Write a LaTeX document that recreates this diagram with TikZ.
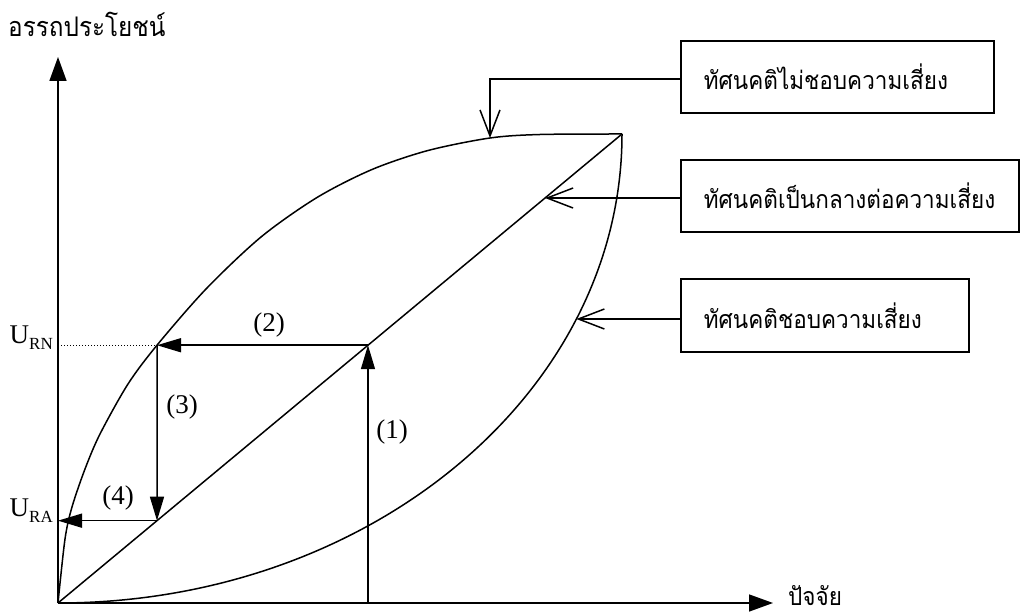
\documentclass[tikz,border=0pt]{standalone}
\usepackage{fontspec}
\setmainfont{Liberation Serif}
\newfontfamily\thaifont[Script=Thai,FakeStretch=0.9]{Loma}
\usetikzlibrary{arrows.meta,calc}
\begin{document}
\begin{tikzpicture}[x=1pt,y=1pt,
  ln/.style={line width=1.5pt},
  solidarr/.style={ln,-{Triangle[length=24pt,width=14pt]}},
  axarr/.style={ln,-{Triangle[length=24pt,width=17pt]}},
  openarr/.style={ln,-{Straight Barb[length=26pt,width=20pt]}},
  box/.style={draw,line width=1.7pt,inner xsep=23pt,inner ysep=0pt,align=left,minimum height=72pt,anchor=north west,font=\thaifont\fontsize{25}{30}\selectfont},
  lbl/.style={font=\fontsize{27}{32}\selectfont,inner sep=0pt},
  thai/.style={font=\thaifont\fontsize{25}{30}\selectfont,inner sep=0pt}]
\useasboundingbox (0,0) rectangle (1020,614);
\fill[white] (0,0) rectangle (1020,614);
% key points
\coordinate (O) at (58,11);
\coordinate (T) at (622,480);
\coordinate (Ytip) at (58,557);
\coordinate (Xtip) at (773,11);
\coordinate (N) at ($(O)!0.5496!(T)$);
\coordinate (xR) at (157,0);
\coordinate (R) at (N -| xR);
\coordinate (A) at ($(O)!0.17553!(T)$);
\coordinate (RA) at (A -| O);
\coordinate (RN) at (N -| O);
\coordinate (B1) at (N |- O);
\coordinate (D1) at (490,476);
\coordinate (C1) at (490,535);
\coordinate (D2) at ($(O)!0.8635!(T)$);
\coordinate (D3) at (576.3,295);
% axes
\draw[axarr] (O) -- (Ytip);
\draw[axarr] (O) -- (Xtip);
% curves
\draw[ln] plot[smooth] coordinates {(58,11) (65,75) (72,107) (85,145) (100,180) (128,230) (157,268.8) (206,325) (261,377) (317,416.5) (372,444.5) (428,463.5) (490,476) (540,479.5) (622,480)};
\draw[ln] (O) -- (T);
\draw[ln] (O) arc[start angle=-90,end angle=0,x radius=564pt,y radius=469pt];
% steps
\draw[line width=0.8pt,dash pattern=on 1pt off 2pt] (RN) -- (R);
\draw[solidarr] (B1) -- (N);
\draw[solidarr] (N) -- (R);
\draw[solidarr] (R) -- (A);
\draw[solidarr] (A) -- (RA);
% labels
\node[lbl] (l1) at (392,182) {(1)};
\node[lbl] (l2) at (269,289) {(2)};
\node[lbl] (l3) at (182,207) {(3)};
\node[lbl] (l4) at (118,116) {(4)};
\node[lbl,anchor=base east] (urn) at (53,271) {U\raisebox{-6pt}{\fontsize{17}{20}\selectfont RN}};
\node[lbl,anchor=base east] (ura) at (53,98) {U\raisebox{-6pt}{\fontsize{17}{20}\selectfont RA}};
\node[thai,anchor=base west,font=\thaifont\fontsize{27}{32}\selectfont] (ylab) at (8,577) {อรรถประโยชน์};
\node[thai,anchor=base west] (xlab) at (788,9) {ปัจจัย};
% boxes
\node[box,text width=267pt] (b1) at (680,574) {ทัศนคติไม่ชอบความเสี่ยง};
\node[box,text width=292pt] (b2) at (680,455) {ทัศนคติเป็นกลางต่อความเสี่ยง};
\node[box,text width=242pt,minimum height=73pt] (b3) at (680,336) {ทัศนคติชอบความเสี่ยง};
\draw[openarr] (b1.west |- C1) -- (C1) -- (D1);
\draw[openarr] (b2.west |- D2) -- (D2);
\draw[openarr] (b3.west |- D3) -- (D3);
\end{tikzpicture}
\end{document}
